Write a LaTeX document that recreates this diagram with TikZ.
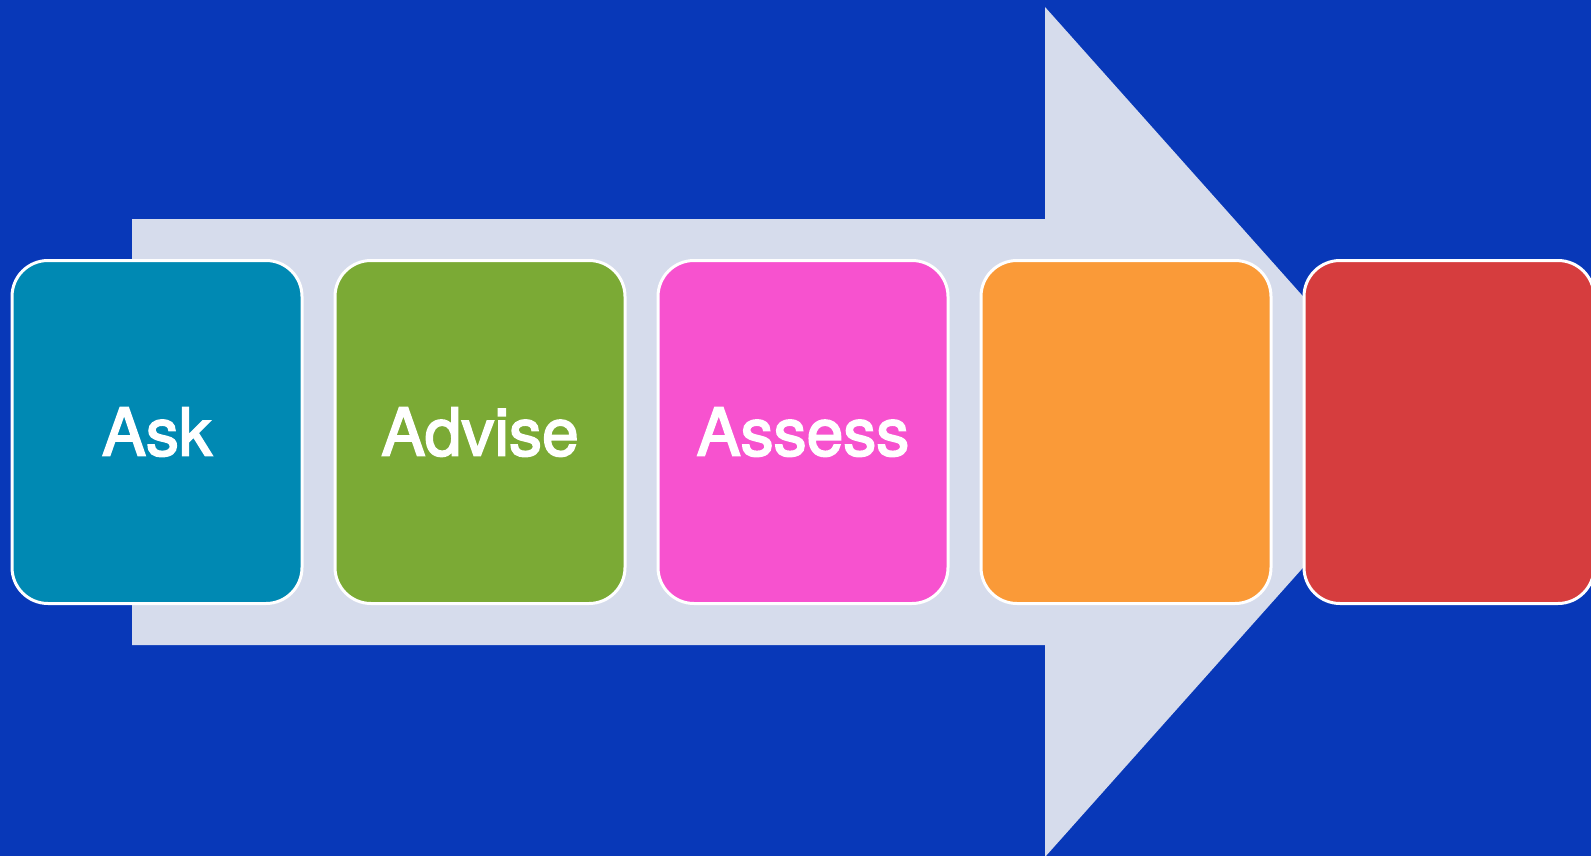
\documentclass[tikz,border=0pt]{standalone}
\usepackage{fontspec}
\newfontfamily\boxfont[FakeBold=2.6]{TeX Gyre Heros}
\definecolor{bgblue}{HTML}{0838B8}
\definecolor{arrowfill}{HTML}{D6DCEC}
\definecolor{cteal}{HTML}{0089B3}
\definecolor{cgreen}{HTML}{7BAA35}
\definecolor{cmagenta}{HTML}{F752CF}
\definecolor{corange}{HTML}{FA9A38}
\definecolor{cred}{HTML}{D63D3E}
\begin{document}
\begin{tikzpicture}[x=1pt,y=-1pt,
  stepbox/.style={draw=white, line width=3pt, rounded corners=36pt,
    minimum width=290pt, minimum height=343pt, inner sep=0pt,
    text=white, font=\boxfont\fontsize{66}{70}\selectfont}]
\clip (0,0) rectangle (1591,856);
\fill[bgblue] (0,0) rectangle (1591,856);
\fill[arrowfill] (132,219) -- (1045,219) -- (1045,7) -- (1424,432)
  -- (1045,857) -- (1045,645) -- (132,645) -- cycle;
\node[stepbox, fill=cteal] (ask) at (157,432) {Ask};
\node[stepbox, fill=cgreen] (advise) at (480,432) {Advise};
\node[stepbox, fill=cmagenta] (assess) at (803,432) {Assess};
\node[stepbox, fill=corange] (s4) at (1126,432) {};
\node[stepbox, fill=cred] (s5) at (1449,432) {};
\end{tikzpicture}
\end{document}
